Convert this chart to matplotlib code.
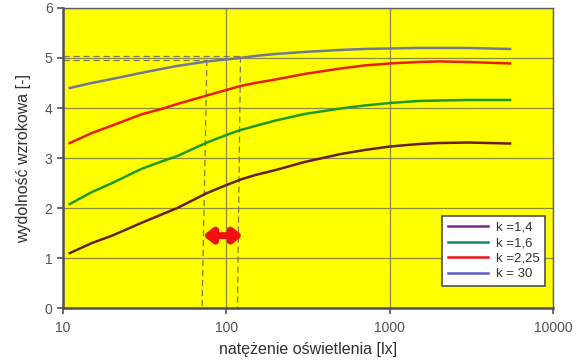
import matplotlib
matplotlib.use("Agg")
import matplotlib.pyplot as plt
from matplotlib.lines import Line2D

plt.rcParams["font.family"] = ["Liberation Sans", "DejaVu Sans"]

E = [11, 15, 20, 30, 40, 50, 76, 100, 122, 150, 200, 300, 500, 700, 1000, 1500, 2000, 3000, 5450]
k14 = [1.10, 1.30, 1.45, 1.70, 1.87, 2.00, 2.30, 2.46, 2.57, 2.66, 2.76, 2.92, 3.08, 3.16, 3.23, 3.28, 3.30, 3.31, 3.29]
k16 = [2.08, 2.32, 2.50, 2.78, 2.93, 3.04, 3.31, 3.46, 3.56, 3.64, 3.75, 3.88, 3.99, 4.05, 4.10, 4.14, 4.15, 4.16, 4.16]
k225 = [3.30, 3.50, 3.65, 3.87, 3.98, 4.08, 4.25, 4.36, 4.44, 4.50, 4.57, 4.68, 4.79, 4.85, 4.89, 4.92, 4.93, 4.92, 4.89]
k30 = [4.40, 4.50, 4.58, 4.70, 4.78, 4.84, 4.93, 4.97, 5.00, 5.04, 5.08, 5.12, 5.16, 5.18, 5.19, 5.20, 5.20, 5.20, 5.18]

labels = ["k =1,4", "k =1,6", "k =2,25", "k = 30"]
line_colors = ["#6a1f1f", "#1f9a1f", "#e81e0a", "#6f7898"]
legend_colors = ["#7a2a8a", "#0f8a6a", "#e8141e", "#5a5ac8"]

# reference markers
E_left = [76, 71]
E_right = [122, 117]
ref_y = [4.96, 5.03]
arrow_E = [72, 126]
arrow_y = 1.45

fig = plt.figure(figsize=(5.78, 3.6), dpi=100)
ax = fig.add_axes([0.109, 0.144, 0.848, 0.834])
ax.set_facecolor("#ffff00")
ax.set_xscale("log")
ax.set_xlim(10, 10000)
ax.set_ylim(0, 6)
ax.set_yticks(range(0, 7))
ax.set_xticks([10, 100, 1000, 10000])
ax.set_xticklabels(["10", "100", "1000", "10000"])
ax.minorticks_off()
ax.grid(True, color="#8a8a40", linewidth=0.9)
ax.set_axisbelow(True)

for ys, col in zip([k14, k16, k225, k30], line_colors):
    ax.plot(E, ys, color=col, linewidth=1.8, zorder=3)

dash = dict(color="#7a7a50", linewidth=0.9, linestyle=(0, (5, 3)), zorder=2)
ax.plot([10, E_left[0]], [ref_y[0], ref_y[0]], **dash)
ax.plot([10, E_right[0]], [ref_y[1], ref_y[1]], **dash)
ax.plot([E_left[0], E_left[1]], [ref_y[0], 0], **dash)
ax.plot([E_right[0], E_right[1]], [ref_y[1], 0], **dash)

ax.annotate("", xy=(arrow_E[0], arrow_y), xytext=(arrow_E[1], arrow_y),
            arrowprops=dict(arrowstyle="<|-|>,head_length=0.5,head_width=0.4",
                            color="#f01010", lw=5, shrinkA=0, shrinkB=0), zorder=4)

for side in ["left", "bottom"]:
    ax.spines[side].set_color("#505050")
    ax.spines[side].set_linewidth(1.8)
for side in ["top", "right"]:
    ax.spines[side].set_color("#606060")
    ax.spines[side].set_linewidth(1.0)

ax.tick_params(axis="both", colors="#505050", labelsize=10, length=4, width=1.2)
ax.tick_params(axis="x", pad=5)
ax.set_xlabel("natężenie oświetlenia [lx]", fontsize=11.5, color="#303030", labelpad=5)
ax.set_ylabel("wydolność wzrokowa [-]", fontsize=11.5, color="#303030", labelpad=10)

handles = [Line2D([0], [0], color=c, linewidth=1.8) for c in legend_colors]
leg = ax.legend(handles, labels, loc="lower right", bbox_to_anchor=(0.984, 0.073),
                borderaxespad=0, fontsize=9.5, frameon=True, fancybox=False,
                framealpha=1, handlelength=3.0, labelspacing=0.25, borderpad=0.45,
                handletextpad=0.6)
leg.get_frame().set_edgecolor("#505050")
leg.get_frame().set_linewidth(1.2)
for t in leg.get_texts():
    t.set_color("#303030")

fig.savefig("out.png", dpi=100, facecolor="white")
